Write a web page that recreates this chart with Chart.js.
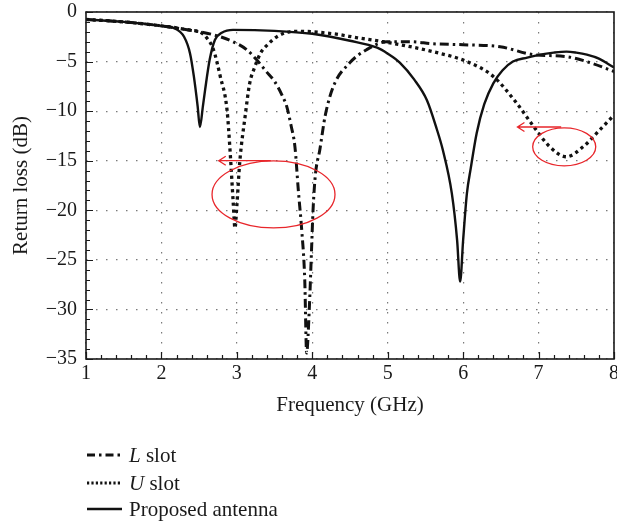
<!DOCTYPE html>
<html>
<head>
<meta charset="utf-8">
<script src="https://cdn.jsdelivr.net/npm/chart.js@4.4.1/dist/chart.umd.min.js"></script>
<style>
  html, body { margin: 0; padding: 0; background: #fff; }
  #wrap { position: relative; width: 617px; height: 523px; }
  #chart { position: absolute; left: 0; top: 0; }
  .row {
    position: absolute; left: 87px; height: 26px;
    display: flex; align-items: center; white-space: nowrap;
    font-family: "Liberation Serif", serif; font-size: 21px; color: #1a1a1a;
  }
  .row svg { margin-right: 7px; }
</style>
</head>
<body>
<div id="wrap">
  <canvas id="chart" width="617" height="523"></canvas>
  <div class="row" style="top:442px">
    <svg width="35" height="6"><line x1="0" y1="3" x2="35" y2="3" stroke="#111" stroke-width="2.8" stroke-dasharray="8 4 2.5 4"/></svg>
    <span><i>L</i> slot</span>
  </div>
  <div class="row" style="top:470px">
    <svg width="35" height="6"><line x1="0" y1="3" x2="35" y2="3" stroke="#111" stroke-width="2.8" stroke-dasharray="2.2 2.2"/></svg>
    <span><i>U</i> slot</span>
  </div>
  <div class="row" style="top:496px">
    <svg width="35" height="6"><line x1="0" y1="3" x2="35" y2="3" stroke="#111" stroke-width="2.4"/></svg>
    <span>Proposed antenna</span>
  </div>
</div>
<script>
// frequency (GHz) / return loss (dB)
const FREQ_L = [1, 1.5, 2, 2.3, 2.69, 2.95, 3.13, 3.26, 3.39, 3.5, 3.6, 3.66, 3.72, 3.77, 3.815, 3.86, 3.9, 3.925, 3.96, 3.99, 4.01, 4.04, 4.1, 4.17, 4.28, 4.5, 4.72, 4.99, 5.3, 5.6, 6.0, 6.49, 6.93, 7.37, 7.68, 8];
const RL_L   = [-0.75, -1.0, -1.4, -1.75, -2.3, -3.0, -3.8, -4.8, -6.0, -7.0, -8.4, -9.5, -11.5, -13.6, -18, -22, -27, -34.4, -30, -24, -20, -16.5, -13.9, -10.5, -7.5, -5.1, -3.8, -3.0, -3.0, -3.2, -3.3, -3.5, -4.3, -4.5, -5.1, -6.0];

const FREQ_U = [1, 1.5, 2, 2.2, 2.4, 2.51, 2.6, 2.69, 2.78, 2.87, 2.91, 2.95, 2.975, 3.0, 3.04, 3.11, 3.17, 3.24, 3.31, 3.42, 3.53, 3.7, 3.84, 4.28, 4.6, 4.94, 5.3, 5.6, 6.05, 6.4, 6.71, 6.93, 7.15, 7.37, 7.59, 7.81, 8];
const RL_U   = [-0.75, -1.0, -1.4, -1.6, -1.85, -2.0, -2.6, -3.8, -6.5, -9.9, -14, -19, -21.8, -19.5, -15, -10.5, -7.2, -5.5, -4.2, -3.2, -2.5, -2.0, -1.95, -2.2, -2.6, -3.0, -3.5, -4.0, -5.0, -6.5, -9.2, -11.5, -13.6, -14.6, -13.6, -11.9, -10.4];

const FREQ_P = [1, 1.5, 2, 2.16, 2.3, 2.38, 2.43, 2.48, 2.51, 2.55, 2.58, 2.64, 2.71, 2.8, 2.95, 3.5, 4, 4.5, 4.86, 5.0, 5.16, 5.35, 5.52, 5.65, 5.73, 5.85, 5.92, 5.96, 6.0, 6.05, 6.1, 6.18, 6.28, 6.4, 6.52, 6.66, 6.85, 7.02, 7.2, 7.37, 7.5, 7.64, 7.8, 8];
const RL_P   = [-0.75, -1.0, -1.4, -1.6, -2.5, -4.2, -6.5, -9.5, -11.6, -9.5, -7.8, -4.8, -2.8, -2.1, -1.8, -1.9, -2.2, -2.9, -3.6, -4.2, -5.1, -6.8, -8.9, -11.8, -13.9, -18.3, -23, -27.2, -23, -18.3, -15.8, -12.2, -9.3, -7.2, -5.9, -5.0, -4.6, -4.3, -4.1, -4.0, -4.1, -4.3, -4.7, -5.6];

const X_TICKS = [1, 2, 3, 4, 5, 6, 7, 8];
const Y_TICKS = [0, -5, -10, -15, -20, -25, -30, -35];

// red callouts: ellipse centre / radii and arrow, in data units
const CALLOUT_ELLIPSES = [[3.486, -18.4, 0.815, 3.38], [7.34, -13.6, 0.418, 1.92]];
const CALLOUT_ARROWS = [[3.45, 2.76, -15.0], [7.3, 6.72, -11.6]];

const FONT = 'Liberation Serif, serif';
const pts = (xs, ys) => xs.map((x, i) => ({ x, y: ys[i] }));

const framePlugin = {
  id: 'frame',
  afterDatasetsDraw(chart) {
    const { ctx, chartArea: a, scales: { x, y } } = chart;
    ctx.save();
    // callouts
    ctx.strokeStyle = '#e8262b';
    ctx.lineWidth = 1.3;
    CALLOUT_ELLIPSES.forEach(([cx, cy, rx, ry]) => {
      const px = x.getPixelForValue(cx), py = y.getPixelForValue(cy);
      ctx.beginPath();
      ctx.ellipse(px, py, Math.abs(x.getPixelForValue(cx + rx) - px), Math.abs(y.getPixelForValue(cy + ry) - py), 0, 0, Math.PI * 2);
      ctx.stroke();
    });
    CALLOUT_ARROWS.forEach(([x0, x1, yv]) => {
      const p0 = x.getPixelForValue(x0), p1 = x.getPixelForValue(x1), py = y.getPixelForValue(yv);
      ctx.beginPath();
      ctx.moveTo(p0, py); ctx.lineTo(p1, py);
      ctx.moveTo(p1 + 7, py - 4.5); ctx.lineTo(p1, py); ctx.lineTo(p1 + 7, py + 4.5);
      ctx.stroke();
    });
    // frame and inward ticks
    ctx.strokeStyle = '#1a1a1a';
    ctx.lineWidth = 1.6;
    ctx.strokeRect(a.left, a.top, a.right - a.left, a.bottom - a.top);
    ctx.lineWidth = 1.2;
    ctx.beginPath();
    for (let i = 0; i <= 35; i++) {
      const v = 1 + i * 0.2;
      const px = Math.round(x.getPixelForValue(v)) + 0.5;
      const len = i % 5 === 0 ? 7 : 4;
      ctx.moveTo(px, a.bottom); ctx.lineTo(px, a.bottom - len);
    }
    for (let v = -35; v <= 0; v++) {
      const py = Math.round(y.getPixelForValue(v)) + 0.5;
      const len = v % 5 === 0 ? 7 : 4;
      ctx.moveTo(a.left, py); ctx.lineTo(a.left + len, py);
    }
    ctx.stroke();
    ctx.restore();
  }
};

new Chart(document.getElementById('chart'), {
  type: 'line',
  data: {
    datasets: [
      {
        label: 'L slot',
        data: pts(FREQ_L, RL_L),
        borderColor: '#111',
        borderWidth: 3,
        borderDash: [9, 4, 2.5, 4],
      },
      {
        label: 'U slot',
        data: pts(FREQ_U, RL_U),
        borderColor: '#111',
        borderWidth: 3.3,
        borderDash: [3.2, 3.6],
      },
      {
        label: 'Proposed antenna',
        data: pts(FREQ_P, RL_P),
        borderColor: '#111',
        borderWidth: 2.4,
      },
    ],
  },
  options: {
    responsive: false,
    animation: false,
    devicePixelRatio: 1,
    layout: { padding: { left: 0, top: 12, right: 3, bottom: 94 } },
    elements: {
      point: { radius: 0 },
      line: { cubicInterpolationMode: 'monotone', fill: false },
    },
    plugins: { legend: { display: false }, tooltip: { enabled: false } },
    scales: {
      x: {
        type: 'linear',
        min: 1,
        max: 8,
        afterBuildTicks: (s) => { s.ticks = X_TICKS.map((value) => ({ value })); },
        afterFit: (s) => { s.height = 70; s.paddingLeft = 0; s.paddingRight = 0; },
        ticks: { color: '#1a1a1a', padding: 3, font: { family: FONT, size: 20 } },
        grid: { color: '#7a7a7a', lineWidth: 1.2, drawTicks: false },
        border: { display: false, dash: [1.5, 8.5] },
        title: { display: true, text: 'Frequency (GHz)', color: '#1a1a1a', font: { family: FONT, size: 21 }, padding: { top: 0, bottom: 11 } },
      },
      y: {
        type: 'linear',
        min: -35,
        max: 0,
        afterBuildTicks: (s) => { s.ticks = Y_TICKS.map((value) => ({ value })); },
        afterFit: (s) => { s.width = 86; s.paddingTop = 0; s.paddingBottom = 0; },
        ticks: {
          color: '#1a1a1a', padding: 9, font: { family: FONT, size: 20 },
          callback: (v) => (v < 0 ? '\u2212' + Math.abs(v) : String(v)),
        },
        grid: { color: '#7a7a7a', lineWidth: 1.2, drawTicks: false },
        border: { display: false, dash: [1.5, 8.5] },
        title: { display: true, text: 'Return loss (dB)', color: '#1a1a1a', font: { family: FONT, size: 21 }, padding: { top: 9, bottom: 0 } },
      },
    },
  },
  plugins: [framePlugin],
});
</script>
</body>
</html>
